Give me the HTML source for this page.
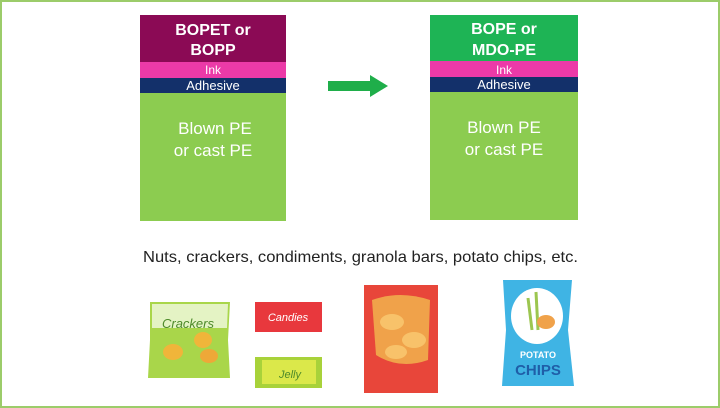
<!DOCTYPE html>
<html><head><meta charset="utf-8"><style>
html,body{margin:0;padding:0;background:#fff;}
svg{display:block;}
text{font-family:"Liberation Sans",sans-serif;}
</style></head><body>
<svg width="720" height="408" viewBox="0 0 720 408" xmlns="http://www.w3.org/2000/svg">
<rect x="1" y="1" width="718" height="406" fill="#fff" stroke="#9ccc6a" stroke-width="2"/>
<rect x="140" y="15" width="146" height="47" fill="#8b0a55"/>
<rect x="140" y="62" width="146" height="16" fill="#ec3aa8"/>
<rect x="140" y="78" width="146" height="15" fill="#13306a"/>
<rect x="140" y="93" width="146" height="128" fill="#8ccc50"/>
<g fill="#fff" text-anchor="middle">
<text x="213" y="35" font-size="16" font-weight="bold">BOPET or</text>
<text x="213" y="55" font-size="16" font-weight="bold">BOPP</text>
<text x="213" y="74" font-size="12">Ink</text>
<text x="213" y="90" font-size="13">Adhesive</text>
<text x="215" y="134" font-size="17">Blown PE</text>
<text x="213" y="156" font-size="17">or cast PE</text>
</g>
<rect x="328" y="81" width="44" height="10" fill="#1fae4a"/>
<polygon points="370,75 388,86 370,97" fill="#1fae4a"/>
<rect x="430" y="15" width="148" height="46" fill="#1eb455"/>
<rect x="430" y="61" width="148" height="16" fill="#ec3aa8"/>
<rect x="430" y="77" width="148" height="15" fill="#13306a"/>
<rect x="430" y="92" width="148" height="128" fill="#8ccc50"/>
<g fill="#fff" text-anchor="middle">
<text x="504" y="34" font-size="16" font-weight="bold">BOPE or</text>
<text x="504" y="55" font-size="16" font-weight="bold">MDO-PE</text>
<text x="504" y="74" font-size="12">Ink</text>
<text x="504" y="89" font-size="13">Adhesive</text>
<text x="504" y="133" font-size="17">Blown PE</text>
<text x="504" y="155" font-size="17">or cast PE</text>
</g>
<text x="143" y="262" font-size="16" fill="#222" textLength="435" lengthAdjust="spacingAndGlyphs">Nuts,  crackers, condiments, granola bars, potato chips, etc.</text>
<path d="M150 302 L230 302 L228 340 L230 378 L148 378 L150 340 Z" fill="#a9d64a"/>
<path d="M152 304 L228 304 L227 328 L152 328 Z" fill="#e4f3c4"/>
<text x="188" y="328" font-size="13" font-style="italic" fill="#4d8a2a" text-anchor="middle" font-family="Liberation Serif">Crackers</text>
<ellipse cx="173" cy="352" rx="10" ry="8" fill="#f0b53a"/>
<ellipse cx="203" cy="340" rx="9" ry="8" fill="#f0b53a"/>
<ellipse cx="209" cy="356" rx="9" ry="7" fill="#eea838"/>
<rect x="255" y="302" width="67" height="30" fill="#e8383d"/>
<text x="288" y="321" font-size="11" font-style="italic" fill="#fff" text-anchor="middle" font-family="Liberation Serif">Candies</text>
<rect x="255" y="357" width="67" height="31" fill="#a8d23a"/>
<rect x="262" y="360" width="54" height="24" fill="#dbe84a"/>
<text x="290" y="378" font-size="11" font-style="italic" fill="#4d8a2a" text-anchor="middle" font-family="Liberation Serif">Jelly</text>
<rect x="364" y="285" width="74" height="108" fill="#e8463a"/>
<path d="M372 300 Q400 290 430 300 L428 360 Q400 370 376 355 Z" fill="#f0a24a"/>
<ellipse cx="392" cy="322" rx="12" ry="8" fill="#f8c26a"/>
<ellipse cx="414" cy="340" rx="12" ry="8" fill="#f8c26a"/>
<ellipse cx="396" cy="352" rx="11" ry="7" fill="#f8c26a"/>
<path d="M503 280 L572 280 L568 330 L574 386 L502 386 L506 330 Z" fill="#3fb4e4"/>
<ellipse cx="537" cy="316" rx="26" ry="28" fill="#fff"/>
<path d="M528 298 L532 330 M536 292 L538 330" stroke="#9cc650" stroke-width="3"/>
<ellipse cx="546" cy="322" rx="9" ry="7" fill="#f0a24a"/>
<text x="538" y="358" font-size="9" font-weight="bold" fill="#fff" text-anchor="middle">POTATO</text>
<text x="538" y="375" font-size="15" font-weight="bold" fill="#1f5ea8" text-anchor="middle">CHIPS</text>
</svg>
</body></html>
